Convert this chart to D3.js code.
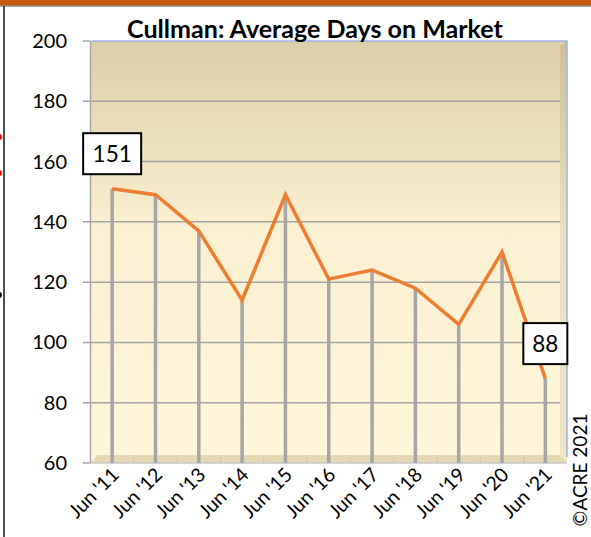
<!DOCTYPE html>
<html>
<head>
<meta charset="utf-8">
<script src="https://cdn.jsdelivr.net/npm/d3@7"></script>
<style>
  html, body { margin: 0; padding: 0; background: #fff; }
  svg { display: block; }
</style>
</head>
<body>
<svg id="chart" width="591" height="537"></svg>
<script>
// ---- data ----
const categories = ["Jun '11","Jun '12","Jun '13","Jun '14","Jun '15","Jun '16","Jun '17","Jun '18","Jun '19","Jun '20","Jun '21"];
const daysOnMarket = [151, 149, 137, 114, 149, 121, 124, 118, 106, 130, 88];
const yTicks = [60, 80, 100, 120, 140, 160, 180, 200];
const labeledIdx = [0, 10];
const chartTitle = "Cullman: Average Days on Market";
const credit = "\u00A9ACRE 2021";

(function () {
const svg = d3.select("#chart");
const W = 591, H = 537;
const pL = 90.5, pR = 567, pT = 41, pB = 463;
const font = "Lato, 'Open Sans', sans-serif";

const x = d3.scaleBand().domain(categories).range([pL, pR]).padding(0);
const cx = c => x(c) + x.bandwidth() / 2;
const y = d3.scaleLinear().domain([60, 200]).range([pB, pT]);

// frame
svg.append("rect").attr("x", 0).attr("y", 0).attr("width", W).attr("height", 5.5).attr("fill", "#c55a11");
svg.append("line").attr("x1", 0).attr("x2", W).attr("y1", 6).attr("y2", 6).attr("stroke", "#555").attr("stroke-width", 1);
svg.append("line").attr("x1", 4).attr("x2", 4).attr("y1", 6).attr("y2", H).attr("stroke", "#111").attr("stroke-width", 1.5);
[[137, "#e00"], [173, "#e00"], [295, "#111"]].forEach(([yy, c]) => {
  svg.append("circle").attr("cx", -1).attr("cy", yy).attr("r", 3).attr("fill", c);
});

// gradients
const defs = svg.append("defs");
const g1 = defs.append("linearGradient").attr("id", "wall").attr("x1", 0).attr("y1", 0).attr("x2", 0).attr("y2", 1);
g1.append("stop").attr("offset", "0%").attr("stop-color", "#dccea6");
g1.append("stop").attr("offset", "45%").attr("stop-color", "#fbf0d0");
g1.append("stop").attr("offset", "100%").attr("stop-color", "#fff6d9");
const g2 = defs.append("linearGradient").attr("id", "bevel").attr("x1", 0).attr("y1", 0).attr("x2", 0).attr("y2", 1);
g2.append("stop").attr("offset", "0%").attr("stop-color", "#cfc096");
g2.append("stop").attr("offset", "45%").attr("stop-color", "#eadfc0");
g2.append("stop").attr("offset", "100%").attr("stop-color", "#efe4c6");

// back wall
svg.append("rect").attr("x", pL).attr("y", pT).attr("width", pR - pL).attr("height", pB - pT).attr("fill", "url(#wall)");
// right bevel
svg.append("path")
  .attr("d", `M${pR - 7},${pT + 5} L${pR},${pT} L${pR},${pB} L${pR - 7},${pB - 8} Z`)
  .attr("fill", "url(#bevel)");
// floor
svg.append("path")
  .attr("d", `M${pL},${pB} L${pL + 7},${pB - 8} L${pR - 7},${pB - 8} L${pR},${pB} Z`)
  .attr("fill", "#e6d8b2");
// floor dividers at category boundaries
svg.append("g").selectAll("line").data(categories.slice(1)).join("line")
  .attr("x1", d => x(d)).attr("x2", d => x(d))
  .attr("y1", pB - 8).attr("y2", pB)
  .attr("stroke", "#cfc6ae").attr("stroke-width", 1);

// gridlines
svg.append("g").selectAll("line").data(yTicks.slice(1, -1)).join("line")
  .attr("x1", 83).attr("x2", pR - 7)
  .attr("y1", d => y(d)).attr("y2", d => y(d))
  .attr("stroke", "#a3a3a3").attr("stroke-width", 1.5);

// top & right border of wall (light blue)
svg.append("path")
  .attr("d", `M${pL + 1},${pT} L${pR},${pT} L${pR},${pB - 6}`)
  .attr("fill", "none").attr("stroke", "#9db3e8").attr("stroke-width", 1.5);

// left wall line & axis ticks
svg.append("line").attr("x1", pL).attr("x2", pL).attr("y1", pT).attr("y2", pB)
  .attr("stroke", "#a6a6a6").attr("stroke-width", 1.5);
svg.append("g").selectAll("line").data([200, 60]).join("line")
  .attr("x1", 83).attr("x2", pL).attr("y1", d => y(d)).attr("y2", d => y(d))
  .attr("stroke", "#a6a6a6").attr("stroke-width", 1.5);
svg.append("line").attr("x1", pL).attr("x2", pR).attr("y1", pB).attr("y2", pB)
  .attr("stroke", "#c9c9c9").attr("stroke-width", 1.5);

// y tick labels
svg.append("g").selectAll("text").data(yTicks).join("text")
  .attr("x", 67).attr("y", d => y(d)).attr("dy", "0.35em")
  .attr("text-anchor", "end")
  .attr("font-family", font).attr("font-size", 20).attr("fill", "#000")
  .text(d => d);

// drop lines
svg.append("g").selectAll("line").data(categories).join("line")
  .attr("x1", d => cx(d)).attr("x2", d => cx(d))
  .attr("y1", (d, i) => y(daysOnMarket[i])).attr("y2", pB)
  .attr("stroke", "#a6a6a6").attr("stroke-width", 3.5);

// series line
const line = d3.line().x((d, i) => cx(categories[i])).y(d => y(d));
svg.append("path").datum(daysOnMarket).attr("d", line)
  .attr("fill", "none").attr("stroke", "#ed7d31").attr("stroke-width", 3.5)
  .attr("stroke-linejoin", "miter");

// data labels
labeledIdx.forEach(i => {
  const px = cx(categories[i]), py = y(daysOnMarket[i]) - 35;
  const t = String(daysOnMarket[i]);
  const w = t.length === 3 ? 58 : 44;
  svg.append("rect").attr("x", px - w / 2).attr("y", py - 20.5).attr("width", w).attr("height", 41)
    .attr("fill", "#fff").attr("stroke", "#000").attr("stroke-width", 2);
  svg.append("text").attr("x", px).attr("y", py).attr("dy", "0.36em")
    .attr("text-anchor", "middle").attr("font-family", font).attr("font-size", 22.5)
    .text(t);
});

// x labels
svg.append("g").selectAll("text").data(categories).join("text")
  .attr("transform", d => `translate(${cx(d) + 8},${pB + 13}) rotate(-45)`)
  .attr("text-anchor", "end")
  .attr("font-family", font).attr("font-size", 19.5)
  .text(d => d);

// title
const tt = svg.append("text").attr("x", 315).attr("y", 37.5).attr("text-anchor", "middle")
  .attr("font-family", font).attr("font-weight", "bold").attr("font-size", 20).text(chartTitle);
const tl = tt.node().getComputedTextLength();
tt.attr("font-size", 20 * 376 / tl);

// credit
svg.append("text").attr("transform", `translate(587,470) rotate(-90)`)
  .attr("text-anchor", "middle").attr("font-family", font).attr("font-size", 19)
  .text(credit);
})();
</script>
</body>
</html>
